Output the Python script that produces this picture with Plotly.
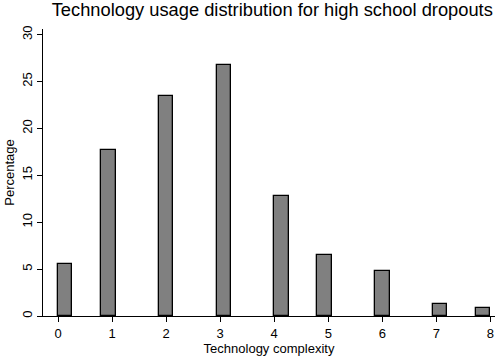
import plotly.graph_objects as go
import math

complexity = [0, 1, 2, 3, 4, 5, 6, 7, 8]
percentage = [5.5, 17.75, 23.45, 26.8, 12.77, 6.5, 4.83, 1.28, 0.9]
y_ticks = [0, 5, 10, 15, 20, 25, 30]

# Stata-style histogram: 30 bins spanning 0..8
n_bins = 30
lo, hi = 0, 8
bw = (hi - lo) / n_bins
centers = [lo + (min(math.floor((v - lo) / bw + 1e-9), n_bins - 1) + 0.5) * bw for v in complexity]

fig = go.Figure(go.Bar(
    x=centers, y=percentage, width=bw,
    marker=dict(color="#808080", line=dict(color="black", width=1.3)),
))

font = "Liberation Sans, Arial, sans-serif"
fig.update_layout(
    width=495, height=358,
    margin=dict(l=43, r=0, t=29, b=42, autoexpand=False),
    plot_bgcolor="white", paper_bgcolor="white",
    font=dict(family=font, color="black", size=12),
    showlegend=False,
    title=dict(text="Technology usage distribution for high school dropouts",
               x=0.55, xanchor="center", y=0.972, yanchor="middle",
               font=dict(size=18.3, family=font, color="black")),
    bargap=0,
)
fig.update_xaxes(
    range=[-0.278, 8.085], tickmode="array", tickvals=complexity,
    ticktext=[str(c) for c in complexity],
    showline=True, linecolor="black", linewidth=1.3,
    ticks="outside", ticklen=5, tickcolor="black", tickwidth=1,
    showgrid=False, zeroline=False,
    title=dict(text="Technology complexity", font=dict(size=13), standoff=0),
    tickfont=dict(size=13),
)
fig.update_yaxes(
    range=[0, 30.6], tickmode="array", tickvals=y_ticks,
    ticktext=[str(t) for t in y_ticks], tickangle=-90,
    showline=True, linecolor="black", linewidth=1.3,
    ticks="outside", ticklen=5, tickcolor="black", tickwidth=1,
    showgrid=False, zeroline=False,
    title=dict(text="Percentage", font=dict(size=13), standoff=2),
    tickfont=dict(size=13),
)
fig.write_html("out.html", config={"displayModeBar": False},
               post_script="document.body.style.margin='0';")
